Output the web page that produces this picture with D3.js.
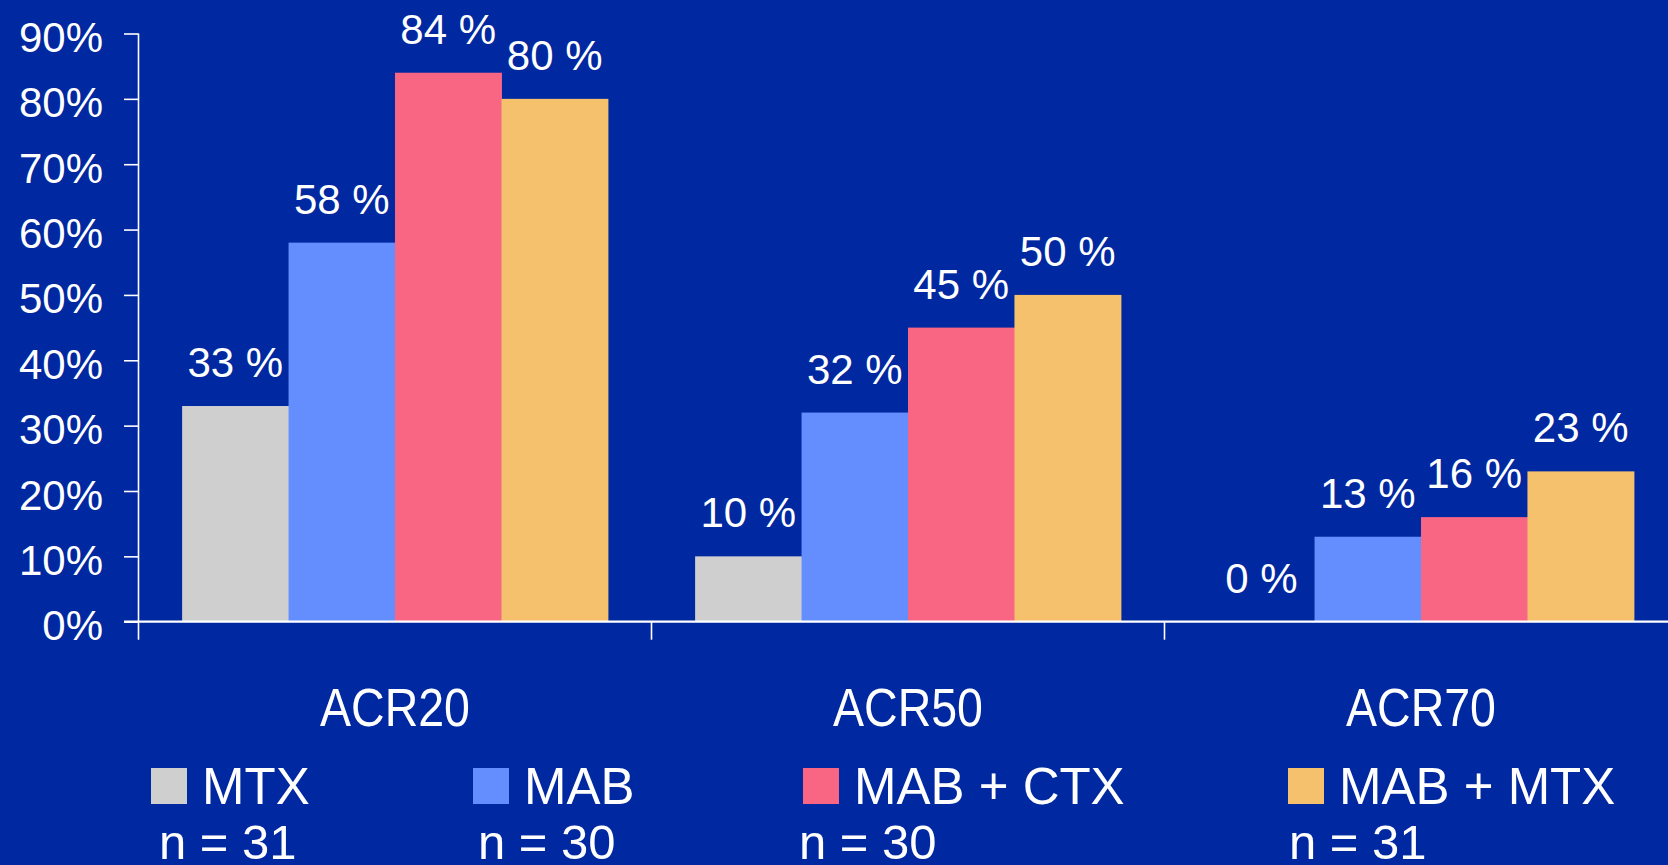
<!DOCTYPE html>
<html>
<head>
<meta charset="utf-8">
<script src="https://cdn.jsdelivr.net/npm/d3@7/dist/d3.min.js"></script>
<style>
  html, body { margin: 0; padding: 0; background: #0028A0; overflow: hidden; }
  svg { display: block; }
  text { font-family: "Liberation Sans", Arial, Helvetica, sans-serif; fill: #ffffff; }
</style>
</head>
<body>
<svg id="chart" width="1668" height="865"></svg>
<script>
// Response rates by criterion and treatment arm
const categories = ["ACR20", "ACR50", "ACR70"];
const seriesNames = ["MTX", "MAB", "MAB + CTX", "MAB + MTX"];
const seriesN = ["n = 31", "n = 30", "n = 30", "n = 31"];
const mtxValues = [33, 10, 0];
const mabValues = [58, 32, 13];
const mabCtxValues = [84, 45, 16];
const mabMtxValues = [80, 50, 23];
const yTicks = [0, 10, 20, 30, 40, 50, 60, 70, 80, 90];

const seriesValues = [mtxValues, mabValues, mabCtxValues, mabMtxValues];
const colors = ["#CFCFCF", "#648EFD", "#F86684", "#F5C16C"];

const W = 1668, H = 865;
const svg = d3.select("#chart");

svg.append("rect").attr("width", W).attr("height", H).attr("fill", "#0028A0");

const axisX = 138.5;
const y = d3.scaleLinear().domain([0, 90]).range([621.7, 33.5]);

const x0 = d3.scaleBand()
  .domain(categories)
  .range([axisX, axisX + 3 * 513])
  .paddingInner(0.17)
  .paddingOuter(0.085);

const x1 = d3.scaleBand()
  .domain(seriesNames)
  .range([0, x0.bandwidth()]);

// Y axis
const yAxis = d3.axisLeft(y)
  .tickValues(yTicks)
  .tickFormat(d => d + "%")
  .tickSize(14.5)
  .tickSizeOuter(0)
  .tickPadding(21);

const gy = svg.append("g")
  .attr("transform", `translate(${axisX},0)`)
  .call(yAxis);
gy.select(".domain").remove();
gy.selectAll(".tick line").attr("stroke", "#fff").attr("stroke-width", 1.6);
gy.selectAll(".tick text")
  .attr("font-size", 42)
  .attr("dy", "0.43em")
  .attr("fill", "#fff")
  .style("font-family", "'Liberation Sans', Arial, sans-serif");

// vertical axis line, extended below the baseline
svg.append("line")
  .attr("x1", axisX).attr("x2", axisX)
  .attr("y1", y(90)).attr("y2", y(0) + 18)
  .attr("stroke", "#fff").attr("stroke-width", 1.6);

// Bars
const groups = svg.append("g").selectAll("g")
  .data(categories)
  .join("g")
  .attr("transform", d => `translate(${x0(d)},0)`);

groups.selectAll("rect")
  .data((c, ci) => seriesNames.map((s, si) => ({ s, si, v: seriesValues[si][ci] })))
  .join("rect")
  .attr("x", d => x1(d.s))
  .attr("width", x1.bandwidth() + 0.5)
  .attr("y", d => y(d.v))
  .attr("height", d => y(0) - y(d.v))
  .attr("fill", d => colors[d.si]);

// Value labels
groups.selectAll("text.val")
  .data((c, ci) => seriesNames.map((s, si) => ({ s, si, v: seriesValues[si][ci] })))
  .join("text")
  .attr("class", "val")
  .attr("x", d => x1(d.s) + x1.bandwidth() / 2)
  .attr("y", d => y(d.v) - 29)
  .attr("text-anchor", "middle")
  .attr("font-size", 42)
  .text(d => d.v + " %");

// X axis baseline
svg.append("line")
  .attr("x1", 124).attr("x2", W)
  .attr("y1", y(0)).attr("y2", y(0))
  .attr("stroke", "#fff").attr("stroke-width", 2.2);

// Category separators
svg.append("g").selectAll("line")
  .data(categories.slice(1))
  .join("line")
  .attr("x1", d => x0(d) - x0.step() * x0.paddingInner() / 2)
  .attr("x2", d => x0(d) - x0.step() * x0.paddingInner() / 2)
  .attr("y1", y(0)).attr("y2", y(0) + 18)
  .attr("stroke", "#fff").attr("stroke-width", 1.6);

// Category labels
svg.append("g").selectAll("text")
  .data(categories)
  .join("text")
  .attr("x", d => x0(d) + x0.bandwidth() / 2)
  .attr("y", 726)
  .attr("text-anchor", "middle")
  .attr("font-size", 53)
  .attr("textLength", 150)
  .attr("lengthAdjust", "spacingAndGlyphs")
  .text(d => d);

// Legend
const legendX = [151, 473, 803, 1288];
const legendNdx = [8, 5, -4, 1];
const legend = svg.append("g").selectAll("g")
  .data(seriesNames)
  .join("g")
  .attr("transform", (d, i) => `translate(${legendX[i]},0)`);

legend.append("rect")
  .attr("x", 0).attr("y", 768)
  .attr("width", 36).attr("height", 36)
  .attr("fill", (d, i) => colors[i]);

legend.append("text")
  .attr("x", 51).attr("y", 804)
  .attr("font-size", 51)
  .text(d => d);

legend.append("text")
  .attr("x", (d, i) => legendNdx[i]).attr("y", 859)
  .attr("font-size", 49)
  .text((d, i) => seriesN[i]);
</script>
</body>
</html>
